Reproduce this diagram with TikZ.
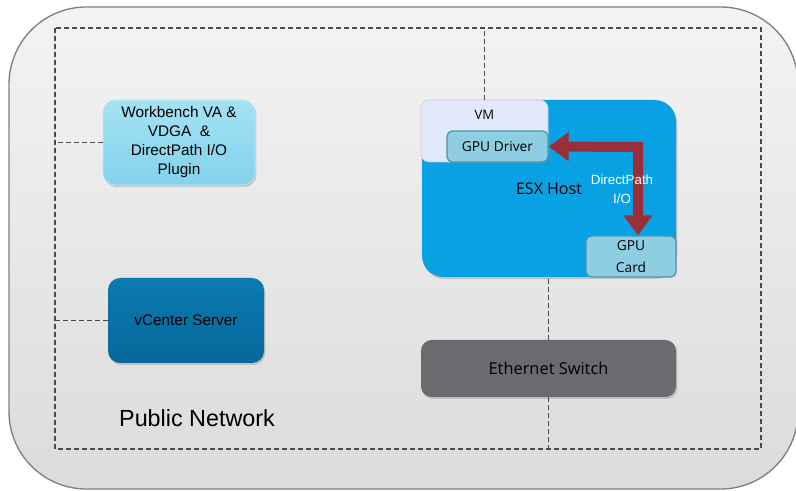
\documentclass[tikz,border=0pt]{standalone}
\usepackage{fontspec}
\setmainfont{Liberation Sans}
\newfontfamily\segoe{Open Sans}
\usepackage{tikz}
\usetikzlibrary{arrows.meta,shadows}

\definecolor{netgray}{HTML}{808080}
\definecolor{dashgray}{HTML}{4A4A4A}
\definecolor{wbtop}{HTML}{A4E2F4}
\definecolor{wbbot}{HTML}{84D2EC}
\definecolor{vctop}{HTML}{0A7BB0}
\definecolor{vcbot}{HTML}{07679A}
\definecolor{esxblue}{HTML}{08A2E4}
\definecolor{vmfill}{HTML}{E2E9FA}
\definecolor{gpufill}{HTML}{8ECDE2}
\definecolor{gpuedge}{HTML}{4F93AC}
\definecolor{swgray}{HTML}{6B6A6F}
\definecolor{pathred}{HTML}{9A2F3A}

\tikzset{
    box/.style={rounded corners=9pt, inner sep=2pt, align=center,
        drop shadow={shadow xshift=1pt, shadow yshift=-1.5pt, opacity=0.35}},
    wbbox/.style={box, top color=wbtop, bottom color=wbbot, draw=wbtop!70!white,
        minimum width=114pt, minimum height=63.75pt, font=\fontsize{11.5}{14.25}\selectfont},
    vcbox/.style={box, top color=vctop, bottom color=vcbot,
        minimum width=117pt, minimum height=63.75pt, font=\fontsize{11.5}{14}\selectfont},
    esxbox/.style={box, rounded corners=16pt, fill=esxblue,
        minimum width=190.5pt, minimum height=132.75pt, font=\segoe\fontsize{12}{14}\selectfont},
    vmbox/.style={rounded corners=6pt, fill=vmfill, draw=gray!40,
        minimum width=95.25pt, minimum height=46.5pt},
    gpubox/.style={rounded corners=4pt, fill=gpufill, draw=gpuedge, line width=1pt,
        align=center, inner sep=1pt, font=\segoe\fontsize{10.3}{16.5}\selectfont},
    swbox/.style={box, rounded corners=8pt, fill=swgray, text=black,
        minimum width=191.25pt, minimum height=42.75pt, font=\segoe\fontsize{12.3}{14}\selectfont},
    netline/.style={dashgray, line width=0.8pt, dash pattern=on 3.5pt off 2.5pt},
    dpath/.style={pathred, line width=7.5pt,
        {Triangle[width=21pt,length=15pt]}-{Triangle[width=21pt,length=15pt]}},
}

\begin{document}
\begin{tikzpicture}[x=0.75pt, y=-0.75pt]
    \useasboundingbox (0,0) rectangle (796,491);
    % network cloud
    \draw[netgray, line width=1pt, top color=gray!9, bottom color=gray!28,
        rounded corners=58pt] (9,7) rectangle (798,489);
    \coordinate (netNW) at (55,28);
    \coordinate (netSE) at (761,449);
    \draw[netline] (netNW) rectangle (netSE);

    % management side
    \node[wbbox] (wb) at (179,142.5) {Workbench VA \&\\VDGA~~\&\\DirectPath I/O\\Plugin};
    \node[vcbox] (vc) at (186,320.5) {vCenter Server};

    % host
    \node[esxbox] (esx) at (549,188.5) {ESX Host};
    \node[vmbox, label={[anchor=north, yshift=-4pt, font=\segoe\fontsize{9.8}{12}\selectfont]north:VM}] (vm) at (484.5,131) {};
    \node[gpubox, minimum width=75.75pt, minimum height=23.25pt] (drv) at (497.5,146.5) {GPU Driver};
    \node[gpubox, minimum width=67.5pt, minimum height=30.75pt] (card) at (631,256.5) {GPU\\Card};
    \node[swbox] (sw) at (548.5,368.5) {Ethernet Switch};

    % DirectPath I/O
    \coordinate (bend) at (638,147);
    \draw[dpath] (drv.east) -- (bend) -- (bend |- card.north);
    \node[text=white, align=center, font=\fontsize{10}{14.25}\selectfont] (dplabel) at (622,189.5) {DirectPath\\I/O};

    % links
    \draw[netline] (wb.west) -- (wb.west -| netNW);
    \draw[netline] (vc.west) -- (vc.west -| netNW);
    \draw[netline] (vm.north) -- (vm.north |- netNW);
    \draw[netline] (sw.north) -- (sw.north |- esx.south);
    \draw[netline] (sw.south) -- (sw.south |- netSE);

    \node[font=\fontsize{17.5}{20}\selectfont] (pubnet) at (197,418) {Public Network};
\end{tikzpicture}
\end{document}
